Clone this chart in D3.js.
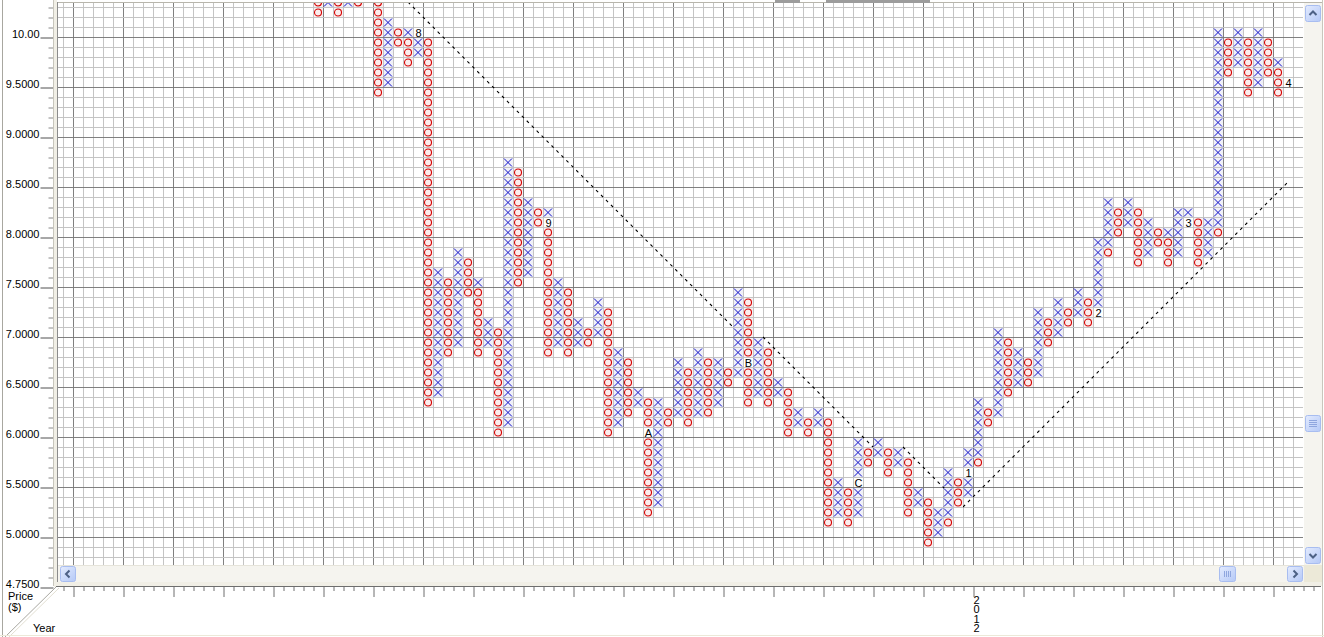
<!DOCTYPE html>
<html>
<head>
<meta charset="utf-8">
<script src="https://cdn.jsdelivr.net/npm/d3@7"></script>
<style>
    html, body { margin: 0; padding: 0; background: #fff; overflow: hidden; }
    svg { display: block; font-family: "Liberation Sans", Arial, sans-serif; }
</style>
</head>
<body>
<div id="chart"></div>
<script>
// point & figure columns: [column, type, high, low] (box size 0.1)
const columns = [
    [25, 'O', 10.3, 10.2], [26, 'X', 10.3, 10.3], [27, 'O', 10.3, 10.2], [28, 'X', 10.3, 10.3],
    [29, 'O', 10.3, 10.3], [31, 'O', 10.3, 9.4], [32, 'X', 10.1, 9.5], [33, 'O', 10.0, 9.9],
    [34, 'X', 10.0, 10.0], [34, 'O', 9.9, 9.7], [35, 'X', 10.0, 9.8], [36, 'O', 9.9, 6.3],
    [37, 'X', 7.6, 6.4], [38, 'O', 7.5, 6.8], [39, 'X', 7.8, 6.9], [40, 'O', 7.7, 7.4],
    [41, 'X', 7.5, 7.5], [41, 'O', 7.4, 6.8], [42, 'X', 7.1, 6.9], [43, 'O', 7.0, 6.0],
    [44, 'X', 8.7, 6.1], [45, 'O', 8.6, 7.5], [46, 'X', 8.3, 7.6], [47, 'O', 8.2, 8.1],
    [48, 'X', 8.2, 8.2], [48, 'O', 8.1, 6.8], [49, 'X', 7.5, 6.9], [50, 'O', 7.4, 6.8],
    [51, 'X', 7.1, 6.9], [52, 'O', 7.0, 6.9], [53, 'X', 7.3, 7.0], [54, 'O', 7.2, 6.0],
    [55, 'X', 6.8, 6.1], [56, 'O', 6.7, 6.2], [57, 'X', 6.4, 6.3], [58, 'O', 6.3, 5.2],
    [59, 'X', 6.3, 5.3], [60, 'O', 6.2, 6.1], [61, 'X', 6.7, 6.2], [62, 'O', 6.6, 6.1],
    [63, 'X', 6.8, 6.2], [64, 'O', 6.7, 6.2], [65, 'X', 6.7, 6.3], [66, 'O', 6.6, 6.5],
    [67, 'X', 7.4, 6.6], [68, 'O', 7.3, 6.3], [69, 'X', 6.9, 6.4], [70, 'O', 6.8, 6.3],
    [71, 'X', 6.5, 6.4], [72, 'O', 6.4, 6.0], [73, 'X', 6.2, 6.1], [74, 'O', 6.1, 6.0],
    [75, 'X', 6.2, 6.1], [76, 'O', 6.1, 5.1], [77, 'X', 5.5, 5.2], [78, 'O', 5.4, 5.1],
    [79, 'X', 5.9, 5.2], [80, 'O', 5.8, 5.7], [81, 'X', 5.9, 5.8], [82, 'O', 5.8, 5.6],
    [83, 'X', 5.8, 5.7], [84, 'O', 5.7, 5.2], [85, 'X', 5.4, 5.3], [86, 'O', 5.3, 4.9],
    [87, 'X', 5.2, 5.0], [88, 'X', 5.6, 5.2], [88, 'O', 5.1, 5.1], [89, 'O', 5.5, 5.3],
    [90, 'X', 5.8, 5.4], [91, 'X', 6.3, 5.8], [91, 'O', 5.7, 5.7], [92, 'O', 6.2, 6.1],
    [93, 'X', 7.0, 6.2], [94, 'O', 6.9, 6.4], [95, 'X', 6.8, 6.5], [96, 'O', 6.7, 6.5],
    [97, 'X', 7.2, 6.6], [98, 'O', 7.1, 6.9], [99, 'X', 7.3, 7.0], [100, 'O', 7.2, 7.1],
    [101, 'X', 7.4, 7.2], [102, 'O', 7.3, 7.1], [103, 'X', 7.9, 7.2], [104, 'X', 8.3, 7.9],
    [104, 'O', 7.8, 7.8], [105, 'O', 8.2, 8.0], [106, 'X', 8.3, 8.1], [107, 'O', 8.2, 7.7],
    [108, 'X', 8.1, 7.8], [109, 'O', 8.0, 7.9], [110, 'X', 8.0, 8.0], [110, 'O', 7.9, 7.7],
    [111, 'X', 8.2, 7.8], [112, 'X', 8.2, 8.2], [113, 'O', 8.1, 7.7], [114, 'X', 8.1, 7.8],
    [115, 'X', 10.0, 8.1], [115, 'O', 8.0, 8.0], [116, 'O', 9.9, 9.6], [117, 'X', 10.0, 9.7],
    [118, 'O', 9.9, 9.4], [119, 'X', 10.0, 9.5], [120, 'O', 9.9, 9.6], [121, 'X', 9.7, 9.7],
    [121, 'O', 9.6, 9.4]
];

// month markers that replace a box: [column, price, text]
const monthMarks = [
    [35, 10.0, '8'], [48, 8.1, '9'], [58, 6.0, 'A'], [68, 6.7, 'B'], [79, 5.5, 'C'],
    [90, 5.6, '1'], [103, 7.2, '2'], [112, 8.1, '3'], [122, 9.5, '4']
];

// 45 degree trend lines: [startColumnEdge, startPrice, endColumnEdge, endPrice]
const trendLines = [
    [34, 10.4, 67, 7.1],
    [70, 7.0, 81, 5.9],
    [84, 5.9, 89, 5.4],
    [90, 5.3, 122.5, 8.55]
];

const priceTicks = [10, 9.5, 9, 8.5, 8, 7.5, 7, 6.5, 6, 5.5, 5, 4.5];
const priceTickLabels = ['10.00', '9.5000', '9.0000', '8.5000', '8.0000', '7.5000',
    '7.0000', '6.5000', '6.0000', '5.5000', '5.0000', '4.7500'];
const yearTicks = [[91, '2012']];

const width = 1324;
const height = 637;
const plot = { left: 58, top: 3, right: 1303, bottom: 565 };

const x = d3.scaleLinear().domain([0, 124]).range([63, 1303]);
const y = d3.scaleLinear().domain([10, 5]).range([37, 537]);

const svg = d3.select('#chart')
    .append('svg')
    .attr('width', width)
    .attr('height', height);

svg.append('rect')
    .attr('width', width)
    .attr('height', height)
    .attr('fill', '#fff');

svg.append('clipPath')
    .attr('id', 'plotClip')
    .append('rect')
    .attr('x', plot.left)
    .attr('y', plot.top)
    .attr('width', plot.right - plot.left)
    .attr('height', plot.bottom - plot.top);

const body = svg.append('g').attr('clip-path', 'url(#plotClip)');

// grid
const colEdges = d3.range(0, 125);
const tenths = d3.range(46, 105);

body.append('g')
    .selectAll('line')
    .data(colEdges)
    .join('line')
    .attr('x1', d => x(d) + 0.5)
    .attr('x2', d => x(d) + 0.5)
    .attr('y1', plot.top)
    .attr('y2', plot.bottom)
    .attr('stroke', d => (d % 5 === 1 ? '#808080' : '#c4c4c4'))
    .attr('stroke-width', 1);

body.append('g')
    .selectAll('line')
    .data(tenths)
    .join('line')
    .attr('x1', plot.left)
    .attr('x2', plot.right)
    .attr('y1', d => y(d / 10) + 0.5)
    .attr('y2', d => y(d / 10) + 0.5)
    .attr('stroke', d => (d % 5 === 0 ? '#808080' : '#c4c4c4'))
    .attr('stroke-width', 1);

// trend lines
body.append('g')
    .selectAll('line')
    .data(trendLines)
    .join('line')
    .attr('x1', d => x(d[0]))
    .attr('y1', d => y(d[1]))
    .attr('x2', d => x(d[2]))
    .attr('y2', d => y(d[3]))
    .attr('stroke', '#000')
    .attr('stroke-width', 1.1)
    .attr('stroke-dasharray', '3,4');

// boxes
const boxes = [];
columns.forEach(([col, type, high, low]) => {
    for (let t = Math.round(low * 10); t <= Math.round(high * 10); t++) {
        const marked = monthMarks.some(m => m[0] === col && Math.round(m[1] * 10) === t);
        if (!marked) boxes.push({ col, type, price: t / 10 });
    }
});

const cells = body.append('g')
    .selectAll('g')
    .data(boxes)
    .join('g')
    .attr('transform', d => `translate(${x(d.col)},${y(d.price + 0.1)})`);

cells.append('rect')
    .attr('x', 1)
    .attr('y', 1)
    .attr('width', 9)
    .attr('height', 9)
    .attr('fill', d => (d.type === 'O' ? '#fbeeee' : '#f0f0f8'));

cells.filter(d => d.type === 'O')
    .append('circle')
    .attr('cx', 5)
    .attr('cy', 5.5)
    .attr('r', 3.5)
    .attr('fill', 'none')
    .attr('stroke', '#d40000')
    .attr('stroke-width', 1.1);

cells.filter(d => d.type === 'X')
    .append('path')
    .attr('d', 'M1,1.5L9,9.5M9,1.5L1,9.5')
    .attr('fill', 'none')
    .attr('stroke', '#1010c8')
    .attr('stroke-width', 1);

body.append('g')
    .selectAll('text')
    .data(monthMarks)
    .join('text')
    .attr('x', d => x(d[0]) + 5.5)
    .attr('y', d => y(d[1] + 0.1) + 9.5)
    .attr('text-anchor', 'middle')
    .attr('font-size', 11)
    .attr('fill', '#000')
    .text(d => d[2]);

// top tabs strip
svg.append('line')
    .attr('x1', plot.left).attr('x2', 1322)
    .attr('y1', 2.5).attr('y2', 2.5)
    .attr('stroke', '#b8b6ac');
[[775, 800], [826, 930]].forEach(([a, b]) => {
    svg.append('rect')
        .attr('x', a).attr('y', 0).attr('width', b - a).attr('height', 3)
        .attr('fill', '#9c9c9c');
});

// left y axis
const yAxis = d3.axisLeft(y)
    .tickValues(priceTicks)
    .tickFormat((d, i) => priceTickLabels[i])
    .tickSize(13)
    .tickPadding(1);

const yAxisG = svg.append('g')
    .attr('transform', 'translate(53.5,0.5)')
    .call(yAxis);
yAxisG.select('.domain').remove();
yAxisG.selectAll('line').attr('stroke', '#505050');
yAxisG.selectAll('text')
    .attr('dy', '-0.5')
    .attr('x', -14)
    .attr('font-size', 11)
    .attr('font-family', '"Liberation Sans", Arial, sans-serif')
    .attr('fill', '#000');

const yMinor = d3.axisLeft(y)
    .tickValues(d3.range(46, 104).filter(t => t % 5 !== 0).map(t => t / 10))
    .tickFormat('')
    .tickSize(5);
const yMinorG = svg.append('g')
    .attr('transform', 'translate(53.5,0.5)')
    .call(yMinor);
yMinorG.select('.domain').remove();
yMinorG.selectAll('line').attr('stroke', '#8a8a8a');

// frame lines left
svg.append('line')
    .attr('x1', 2.5).attr('x2', 2.5).attr('y1', 0).attr('y2', height)
    .attr('stroke', '#a8a7a0');
svg.append('line')
    .attr('x1', 53.5).attr('x2', 53.5).attr('y1', 0).attr('y2', 586)
    .attr('stroke', '#c8c6bc');
svg.append('rect')
    .attr('x', 54).attr('y', 0).attr('width', 3).attr('height', 587)
    .attr('fill', '#f1efe6');
svg.append('line')
    .attr('x1', 57.5).attr('x2', 57.5).attr('y1', 2).attr('y2', 583)
    .attr('stroke', '#8c8c8c');

// horizontal scrollbar
svg.append('rect')
    .attr('x', plot.left).attr('y', 565).attr('width', 1305 - plot.left).attr('height', 17)
    .attr('fill', '#f5f4ef');
svg.append('line')
    .attr('x1', plot.left).attr('x2', 1305).attr('y1', 565.5).attr('y2', 565.5)
    .attr('stroke', '#e6e4da');

// vertical scrollbar
svg.append('rect')
    .attr('x', 1304).attr('y', 3).attr('width', 18).attr('height', 562)
    .attr('fill', '#f5f4ef');
svg.append('rect')
    .attr('x', 1304).attr('y', 565).attr('width', 18).attr('height', 18)
    .attr('fill', '#ece9d8');

const buttons = [
    { x: 60, y: 566, w: 16, h: 16, icon: 'left' },
    { x: 1287, y: 566, w: 16, h: 16, icon: 'right' },
    { x: 1219, y: 566, w: 17, h: 16, icon: 'hgrip' },
    { x: 1305, y: 5, w: 16, h: 17, icon: 'up' },
    { x: 1305, y: 547, w: 16, h: 17, icon: 'down' },
    { x: 1305, y: 415, w: 16, h: 17, icon: 'vgrip' }
];

const defs = svg.append('defs');
const grad = defs.append('linearGradient').attr('id', 'btnGrad')
    .attr('x1', 0).attr('y1', 0).attr('x2', 1).attr('y2', 1);
grad.append('stop').attr('offset', '0%').attr('stop-color', '#e3ebfe');
grad.append('stop').attr('offset', '100%').attr('stop-color', '#b5c9f7');

const btn = svg.append('g')
    .selectAll('g')
    .data(buttons)
    .join('g')
    .attr('transform', d => `translate(${d.x},${d.y})`);

btn.append('rect')
    .attr('x', 0.5).attr('y', 0.5)
    .attr('width', d => d.w - 1).attr('height', d => d.h - 1)
    .attr('rx', 2)
    .attr('fill', 'url(#btnGrad)')
    .attr('stroke', '#a8bdf0');

const icons = {
    left: 'M9.5,4.5L6,8L9.5,11.5',
    right: 'M6.5,4.5L10,8L6.5,11.5',
    up: 'M4.5,10L8,6.5L11.5,10',
    down: 'M4.5,7L8,10.5L11.5,7',
    hgrip: 'M5.5,5V11M7.5,5V11M9.5,5V11M11.5,5V11',
    vgrip: 'M4,5.5H12M4,7.5H12M4,9.5H12M4,11.5H12'
};

btn.append('path')
    .attr('d', d => icons[d.icon])
    .attr('fill', 'none')
    .attr('stroke', d => (d.icon.includes('grip') ? '#8fa6de' : '#4d6185'))
    .attr('stroke-width', d => (d.icon.includes('grip') ? 1 : 2));

svg.append('line')
    .attr('x1', 1322.5).attr('x2', 1322.5).attr('y1', 0).attr('y2', height)
    .attr('stroke', '#c9c7bc');

// bottom x axis
svg.append('rect')
    .attr('x', 54).attr('y', 582).attr('width', 1268).attr('height', 4)
    .attr('fill', '#f1efe6');
svg.append('line')
    .attr('x1', 56).attr('x2', 1321).attr('y1', 586.5).attr('y2', 586.5)
    .attr('stroke', '#6e6e6e');

const xMajor = d3.axisBottom(x)
    .tickValues(colEdges.concat([125]).filter(e => e % 5 === 1))
    .tickFormat('')
    .tickSize(10);
const xMinor = d3.axisBottom(x)
    .tickValues(colEdges.concat([125]).filter(e => e % 5 !== 1))
    .tickFormat('')
    .tickSize(4);

[xMajor, xMinor].forEach(ax => {
    const g = svg.append('g')
        .attr('transform', 'translate(0.5,587)')
        .call(ax);
    g.select('.domain').remove();
    g.selectAll('line').attr('stroke', '#6e6e6e');
});

// year label, stacked vertically as one text
svg.append('g')
    .selectAll('text')
    .data(yearTicks)
    .join('text')
    .attr('x', d => x(d[0]) + 3.5)
    .attr('y', 594)
    .attr('font-size', 11)
    .attr('fill', '#000')
    .style('writing-mode', 'vertical-rl')
    .style('text-orientation', 'upright')
    .style('letter-spacing', '-2.6px')
    .text(d => d[1]);

// bevel corner and axis titles
svg.append('line')
    .attr('x1', 56).attr('y1', 587).attr('x2', 5).attr('y2', 637)
    .attr('stroke', '#a8a7a0');
svg.append('line')
    .attr('x1', 59).attr('y1', 588).attr('x2', 9).attr('y2', 637)
    .attr('stroke', '#e2dfd2');
svg.append('line')
    .attr('x1', 0).attr('x2', width).attr('y1', 635.5).attr('y2', 635.5)
    .attr('stroke', '#ece9d8');

const titles = [['Price', 8, 600], ['($)', 8, 611], ['Year', 33, 632]];
svg.append('g')
    .selectAll('text')
    .data(titles)
    .join('text')
    .attr('x', d => d[1])
    .attr('y', d => d[2])
    .attr('font-size', 11)
    .attr('fill', '#000')
    .text(d => d[0]);
</script>
</body>
</html>
